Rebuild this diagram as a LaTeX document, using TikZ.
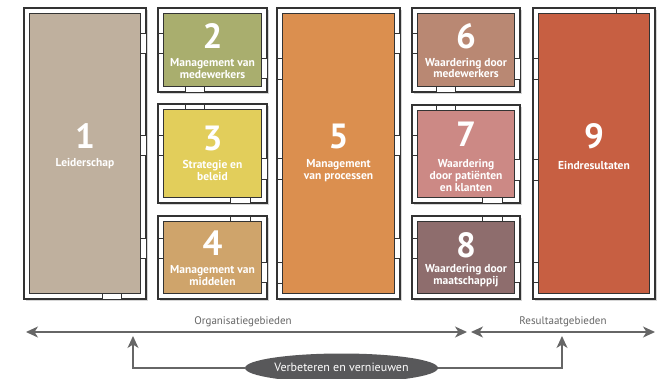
\documentclass[tikz,border=0pt]{standalone}
\usepackage{fontspec}
\setmainfont{PT Sans}
\usetikzlibrary{arrows.meta,shapes.geometric}
\definecolor{wall}{HTML}{333333}
\definecolor{agray}{HTML}{666666}
\definecolor{egray}{HTML}{58585A}
\definecolor{c1}{HTML}{BFB09E}
\definecolor{c2}{HTML}{A9AE6E}
\definecolor{c3}{HTML}{E2CE5B}
\definecolor{c4}{HTML}{CFA46B}
\definecolor{c5}{HTML}{DB8F4F}
\definecolor{c6}{HTML}{B98873}
\definecolor{c7}{HTML}{CC8985}
\definecolor{c8}{HTML}{8E6D6D}
\definecolor{c9}{HTML}{C75F42}
\tikzset{
  outerwall/.style={draw=wall,line width=1.8pt,fill=white},
  roomshadow/.style={fill=black!16},
  room/.style={draw=wall,line width=1.2pt,inner sep=0pt,outer sep=0pt},
  doorbox/.style={draw=wall,line width=0.8pt,fill=white},
  num/.style={text=white,font=\fontsize{35}{35}\selectfont\bfseries,inner sep=0pt,anchor=base},
  lab/.style={text=white,font=\fontsize{11.5}{11.8}\selectfont\bfseries,align=center,inner sep=0pt},
  captext/.style={text=agray,font=\fontsize{11}{13}\selectfont,inner sep=0pt},
  arr/.style={draw=agray,line width=1.3pt},
  onetip/.style={-{Stealth[length=12pt,width=11pt,inset=3.5pt]}},
  twotips/.style={{Stealth[length=12pt,width=11pt,inset=3.5pt]}-{Stealth[length=12pt,width=11pt,inset=3.5pt]}},
}
% \myroom{name}{x1}{y1}{x2}{y2}{colour}
\newcommand\myroom[6]{%
  \fill[roomshadow] ({#2+2},{#3+2}) rectangle ({#4+2},{#5+2});
  \draw[outerwall] (#2,#3) rectangle (#4,#5);
  \node[room,fill=#6,anchor=north west,
        minimum width={(#4-#2-11)*1pt},minimum height={(#5-#3-11)*1pt}]
        (#1) at ({#2+5.5},{#3+5.5}) {};
}
% doors in a vertical wall: outer x, y1, y2, side (+1 = right wall, -1 = left wall)
\newcommand\vdoor[4]{\draw[doorbox] (#1,#2) rectangle ({#1-#4*5.5},#3);}
% doors in a horizontal wall: outer y, x1, x2, side (+1 = bottom wall, -1 = top wall)
\newcommand\hdoor[4]{\draw[doorbox] (#2,#1) rectangle (#3,{#1-#4*5.5});}
\begin{document}
\begin{tikzpicture}[x=1pt,y=-1pt]
\useasboundingbox (0,0) rectangle (667,378);
\clip (0,0) rectangle (667,378);
\fill[white] (0,0) rectangle (667,378);

\myroom{b1}{24}{8}{146}{299}{c1}
\myroom{b2}{158}{8}{267}{92}{c2}
\myroom{b3}{158}{104}{267}{203}{c3}
\myroom{b4}{158}{216}{267}{299}{c4}
\myroom{b5}{277}{8}{400}{299}{c5}
\myroom{b6}{412}{8}{520}{92}{c6}
\myroom{b7}{412}{105}{520}{203}{c7}
\myroom{b8}{412}{216}{520}{299}{c8}
\myroom{b9}{533}{8}{655}{299}{c9}

% doors
\vdoor{146}{33}{53}{1}\vdoor{146}{135}{155}{1}\vdoor{146}{238}{258}{1}
\hdoor{299}{102}{121}{1}
\vdoor{158}{33}{53}{-1}\vdoor{267}{58}{78}{1}\hdoor{92}{185}{204}{1}
\hdoor{104}{185}{204}{-1}\vdoor{158}{135}{155}{-1}\vdoor{267}{158}{179}{1}\hdoor{203}{230}{250}{1}
\hdoor{216}{230}{250}{-1}\vdoor{158}{238}{258}{-1}\vdoor{267}{262}{282}{1}
\vdoor{277}{58}{79}{-1}\vdoor{277}{158}{179}{-1}\vdoor{277}{262}{283}{-1}
\vdoor{400}{33}{53}{1}\vdoor{400}{135}{155}{1}\vdoor{400}{238}{258}{1}
\vdoor{412}{33}{53}{-1}\vdoor{520}{58}{79}{1}\hdoor{92}{436}{455}{1}
\hdoor{105}{436}{455}{-1}\vdoor{412}{135}{155}{-1}\vdoor{520}{159}{180}{1}\hdoor{203}{482}{502}{1}
\hdoor{216}{482}{502}{-1}\vdoor{412}{238}{258}{-1}\vdoor{520}{262}{282}{1}
\vdoor{533}{58}{79}{-1}\vdoor{533}{159}{180}{-1}\vdoor{533}{262}{282}{-1}
\hdoor{8}{616}{636}{-1}

% texts
\node[num] (n1) at (85,148) {1};
\node[lab] (l1) at (85,164) {Leiderschap};
\node[num] (n2) at (212.5,48) {2};
\node[lab] (l2) at (212.5,68.5) {Management van\\medewerkers};
\node[num] (n3) at (212.5,150) {3};
\node[lab] (l3) at (212.5,170.5) {Strategie en\\beleid};
\node[num] (n4) at (212.5,255) {4};
\node[lab] (l4) at (212.5,275.5) {Management van\\middelen};
\node[num] (n5) at (338.5,148) {5};
\node[lab] (l5) at (338.5,171) {Management\\van processen};
\node[num] (n6) at (466,48) {6};
\node[lab] (l6) at (466,68) {Waardering door\\medewerkers};
\node[num] (n7) at (466,146) {7};
\node[lab] (l7) at (466,175.5) {Waardering\\door patiënten\\en klanten};
\node[num] (n8) at (466,257) {8};
\node[lab] (l8) at (466,275.5) {Waardering door\\maatschappij};
\node[num] (n9) at (594,148) {9};
\node[lab] (l9) at (594,165) {Eindresultaten};

% bottom arrows
\coordinate (oL) at (26,332);
\coordinate (oR) at (467,332);
\coordinate (rL) at (471,332);
\coordinate (rR) at (655,332);
\draw[arr,twotips] (oL) -- (oR);
\draw[arr,twotips] (rL) -- (rR);
\node[captext] (ot) at (243,322) {Organisatiegebieden};
\node[captext] (rt) at (563,322) {Resultaatgebieden};

\node[ellipse,fill=egray,minimum width=193pt,minimum height=29pt,inner sep=0pt] (ve) at (341.5,368) {};
\node[text=white,font=\fontsize{12}{14}\selectfont,inner sep=0pt] (vt) at (341.5,367) {Verbeteren en vernieuwen};
\coordinate (uL) at (133,336);
\coordinate (uR) at (562,336);
\draw[arr,onetip] (ve.west) -| (uL);
\draw[arr,onetip] (ve.east) -| (uR);
\end{tikzpicture}
\end{document}
